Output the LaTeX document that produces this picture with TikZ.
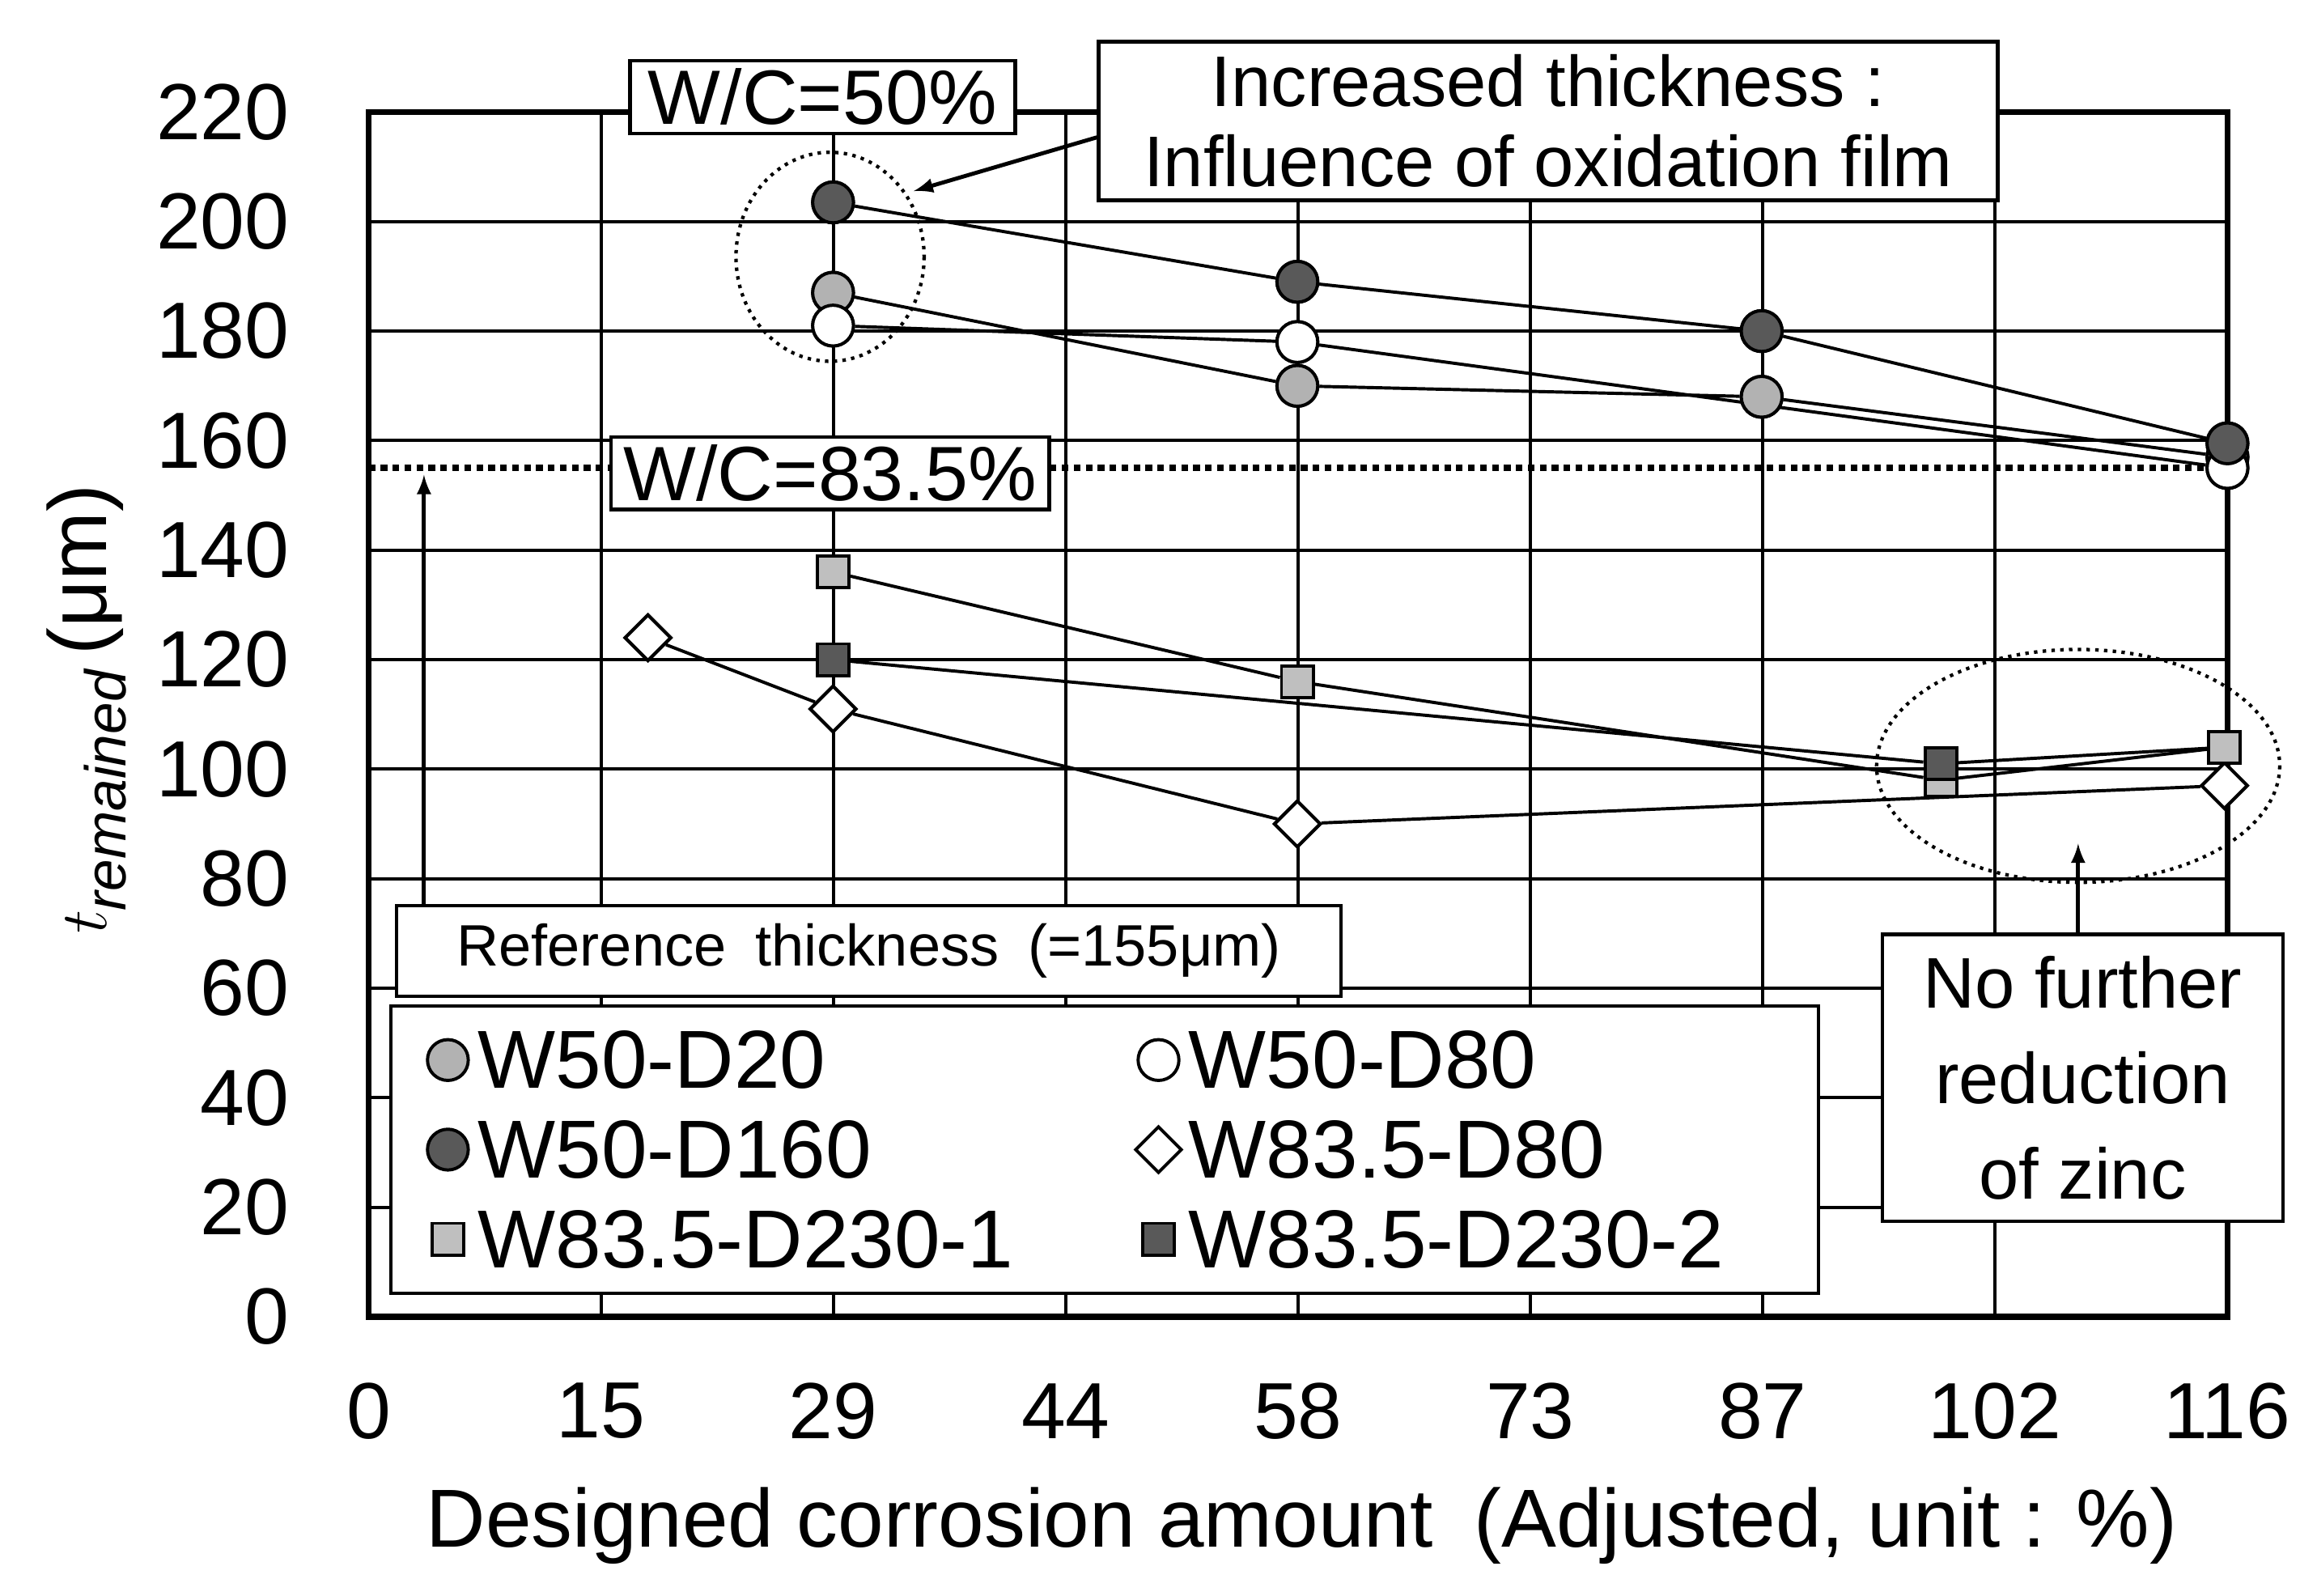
\documentclass[tikz,border=0pt]{standalone}
\usepackage{fontspec}
\setmainfont{Liberation Sans}
\usetikzlibrary{shapes.geometric}
\begin{document}
\begin{tikzpicture}[x=0.01976cm,y=-0.01976cm,
 mk/.style={draw=black,line width=1.2pt,inner sep=0pt},
 cL/.style={mk,circle,minimum size=0.54cm,fill=black!30},
 cW/.style={mk,circle,minimum size=0.54cm,fill=white},
 cD/.style={mk,circle,minimum size=0.54cm,fill=black!65},
 dW/.style={mk,diamond,minimum size=0.62cm,fill=white},
 sL/.style={mk,rectangle,minimum size=0.42cm,fill=black!25},
 sD/.style={mk,rectangle,minimum size=0.42cm,fill=black!65},
 ln/.style={line width=1.2pt},
 tk/.style={font=\fontsize{30}{34}\selectfont},
 box/.style={draw,line width=1.3pt,fill=white,inner sep=3pt,align=center},
 lg/.style={font=\fontsize{31}{34}\selectfont,anchor=west}]
\useasboundingbox (0,0) rectangle (1552,1069);
% grid
\foreach \i in {1,...,7} \draw[line width=1.2pt] (247+155.6*\i,75) -- (247+155.6*\i,882);
\foreach \j in {1,...,10} \draw[line width=1.2pt] (247,882-73.36*\j) -- (1492,882-73.36*\j);
\draw[line width=2.2pt] (247,75) rectangle (1492,882);
% ticks
\foreach \v [count=\j from 0] in {0,20,40,60,80,100,120,140,160,180,200,220}
  \node[tk,anchor=east] at (200,882-73.36*\j) {\v};
\foreach \v [count=\i from 0] in {0,15,29,44,58,73,87,102,116}
  \node[tk] at (247+155.6*\i,945) {\v};
\node[font=\fontsize{31}{34}\selectfont] at (872,1022) {Designed corrosion amount\enspace(Adjusted, unit : \%)};
\node[font=\fontsize{31}{34}\selectfont,rotate=90] at (58,475) {$t_{\mathit{remained}}$\,(μm)};
% reference dotted line
\draw[line width=2.5pt,dotted] (247,313.5) -- (1492,313.5);
% data: y = 882 - 3.668 v
\def\Y#1{882-3.668*#1}
\node[cL] (a1) at (558,{\Y{187}}) {};
\node[cL] (a2) at (869,{\Y{170}}) {};
\node[cL] (a3) at (1180,{\Y{168}}) {};
\node[cL] (a4) at (1492,{\Y{157}}) {};
\node[cW] (b1) at (558,{\Y{181}}) {};
\node[cW] (b2) at (869,{\Y{178}}) {};
\node[cW] (b4) at (1492,{\Y{155}}) {};
\node[cD] (c1) at (558,{\Y{203.5}}) {};
\node[cD] (c2) at (869,{\Y{189}}) {};
\node[cD] (c3) at (1180,{\Y{180}}) {};
\node[cD] (c4) at (1492,{\Y{159.5}}) {};
\node[dW] (d0) at (434,{\Y{124}}) {};
\node[dW] (d1) at (558,{\Y{111}}) {};
\node[dW] (d2) at (869,{\Y{90}}) {};
\node[dW] (d4) at (1490,{\Y{97}}) {};
\node[sL] (e1) at (558,{\Y{136}}) {};
\node[sL] (e2) at (869,{\Y{116}}) {};
\node[sL] (e3) at (1300,{\Y{98}}) {};
\node[sL] (e4) at (1490,{\Y{104}}) {};
\node[sD] (f1) at (558,{\Y{120}}) {};
\node[sD] (f3) at (1300,{\Y{101}}) {};
\draw[ln] (a1)--(a2)--(a3)--(a4);
\draw[ln] (b1)--(b2)--(b4);
\draw[ln] (c1)--(c2)--(c3)--(c4);
\draw[ln] (d0)--(d1)--(d2)--(d4);
\draw[ln] (e1)--(e2)--(e3)--(e4);
\draw[ln] (f1)--(f3)--(e4);
% redraw markers over lines
\foreach \n/\s in {a1/cL,a2/cL,a3/cL,b1/cW,b2/cW,a4/cL,b4/cW,c1/cD,c2/cD,c3/cD,c4/cD,d0/dW,d1/dW,d2/dW,d4/dW,e1/sL,e2/sL,e3/sL,f1/sD,f3/sD,e4/sL}
  \node[\s] at (\n) {};
% annotations
\draw[line width=1.3pt,dotted] (556,172) ellipse [x radius=63, y radius=70];
\draw[line width=1.3pt,dotted] (1392,513) ellipse [x radius=135, y radius=78];
\node[box,font=\fontsize{29}{32}\selectfont,minimum width=5.1cm,minimum height=0.9cm] (wc50) at (551,65) {W/C=50\%};
\node[box,font=\fontsize{29}{32}\selectfont,minimum width=5.8cm,minimum height=0.9cm] (wc83) at (556,317) {W/C=83.5\%};
\node[box,font=\fontsize{27}{30}\selectfont,minimum width=11.9cm,minimum height=2.1cm] (inc) at (1037,81) {Increased thickness :\\Influence of oxidation film};
\draw[-latex,line width=1.5pt] (inc.west |- 0,92) -- (612,128);
\node[box,font=\fontsize{22}{26}\selectfont,minimum width=12.5cm,minimum height=1.2cm] (ref) at (582,637) {Reference\enspace thickness\enspace(=155μm)};
\coordinate (rt) at (284,318);
\draw[-latex,line width=1.5pt] (ref.north -| rt) -- (rt);
\node[box,font=\fontsize{27}{36}\selectfont,minimum width=5.3cm,minimum height=3.8cm] (nf) at (1395,722) {No further\\reduction\\of zinc};
\coordinate (nt) at (1392,565);
\draw[-latex,line width=1.5pt] (nf.north -| nt) -- (nt);
% legend
\node[box,minimum width=18.9cm,minimum height=3.8cm] (leg) at (740,770) {};
\node[cL] (l1) at (300,710) {}; \node[lg] at (314,710) {W50-D20};
\node[cW] (l2) at (776,710) {}; \node[lg] at (790,710) {W50-D80};
\node[cD] (l3) at (300,770) {}; \node[lg] at (314,770) {W50-D160};
\node[dW] (l4) at (776,770) {}; \node[lg] at (790,770) {W83.5-D80};
\node[sL] (l5) at (300,830) {}; \node[lg] at (314,830) {W83.5-D230-1};
\node[sD] (l6) at (776,830) {}; \node[lg] at (790,830) {W83.5-D230-2};
\end{tikzpicture}
\end{document}
